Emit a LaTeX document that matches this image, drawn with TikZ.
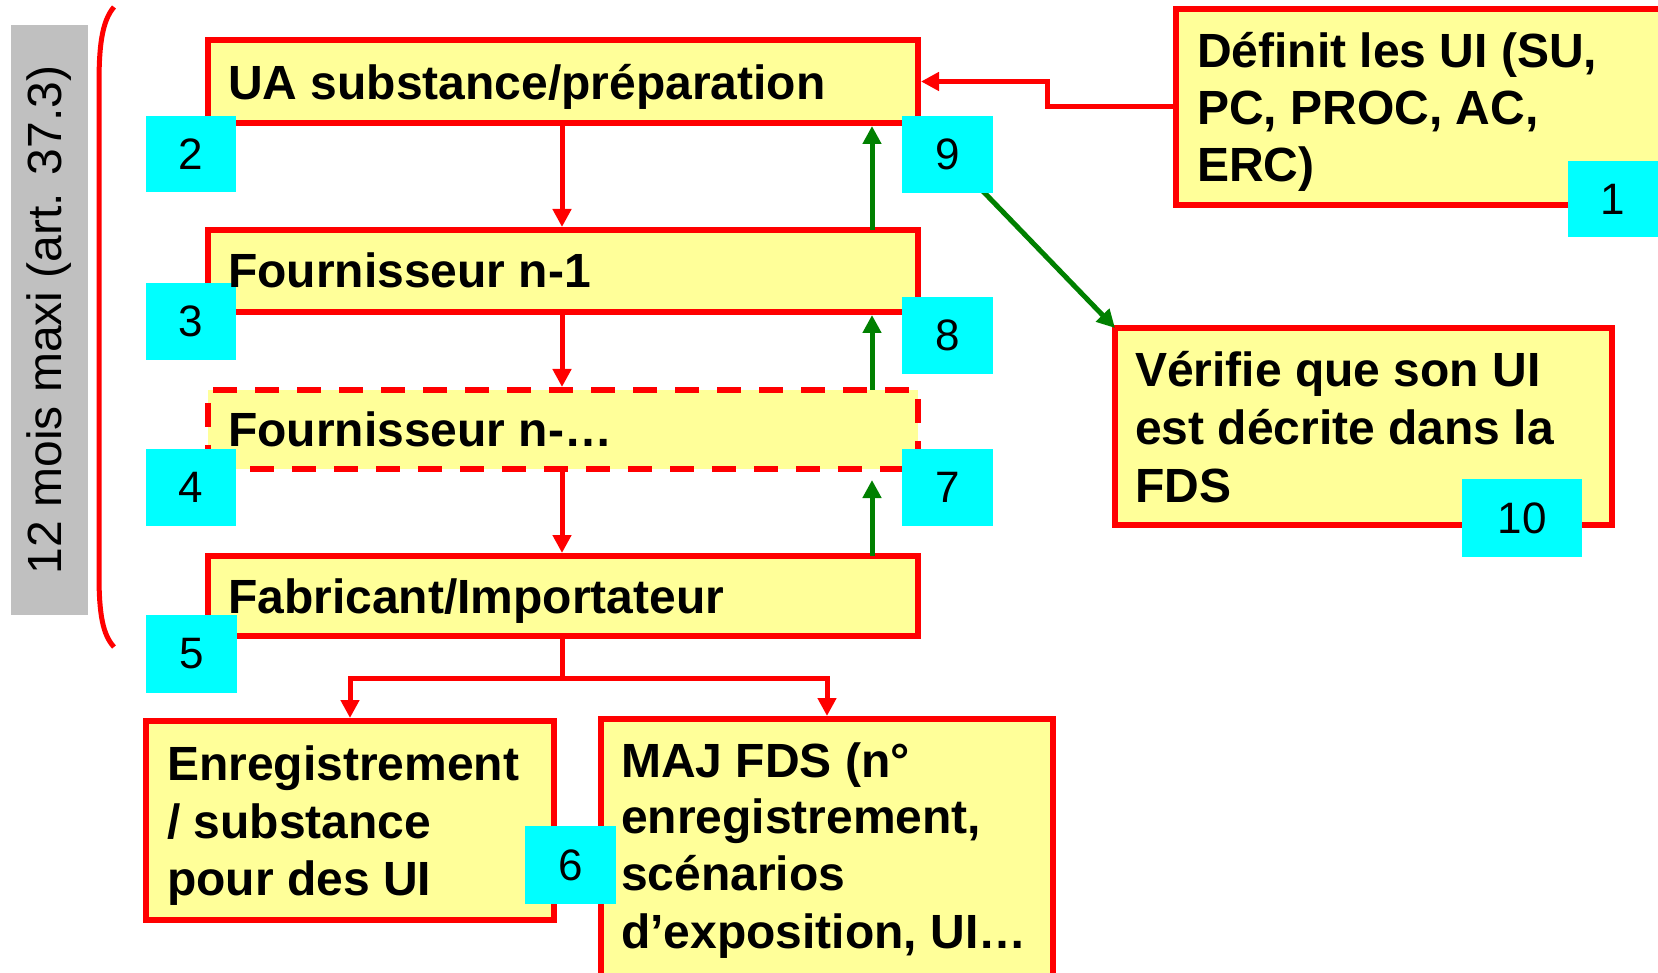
\documentclass[tikz,border=0pt]{standalone}
\usepackage{fontspec}
\setmainfont{Liberation Sans}
\usetikzlibrary{arrows.meta}
\definecolor{boxfill}{HTML}{FFFF99}
\definecolor{cyanbox}{HTML}{00FFFF}
\definecolor{darkgreen}{HTML}{008000}
\definecolor{greybar}{HTML}{C0C0C0}
\pgfdeclarelayer{fg}
\pgfsetlayers{main,fg}
\begin{document}
\begin{tikzpicture}[x=1pt,y=-1pt,
  box/.style={draw=red, fill=boxfill, line width=5.5pt, inner sep=0pt, outer sep=0pt, anchor=north west},
  dbox/.style={box, dash pattern=on 24pt off 18pt},
  numbox/.style={fill=cyanbox, inner sep=0pt, outer sep=0pt, anchor=north west, font=\fontsize{44}{50}\selectfont},
  btxt/.style={anchor=base west, inner sep=0pt, font=\bfseries\fontsize{48}{57}\selectfont},
  rarr/.style={draw=red, line width=5pt, -{Triangle[length=18pt,width=18pt]}, shorten >=3pt},
  rline/.style={draw=red, line width=5pt},
  garr/.style={draw=darkgreen, line width=5pt, -{Triangle[length=18pt,width=18pt]}, shorten >=3pt}
]
\useasboundingbox (0,0) rectangle (1658,973);
% grey label and bracket
\fill[greybar] (11,25) rectangle (88,615);
\node[rotate=90, inner sep=0pt, font=\fontsize{48}{58}\selectfont] (lbl) at (49.5,320) {12 mois maxi (art. 37.3)};
\draw[red, line width=5pt] (114,7) .. controls (101,22) and (99,50) .. (99,85) -- (99,575) .. controls (99,615) and (103,635) .. (114,647);

% boxes
\node[box, minimum width=710pt, minimum height=83pt] (ua) at (208,40) {};
\node[box, minimum width=710pt, minimum height=82pt] (f1) at (208,230) {};
\node[dbox, minimum width=710pt, minimum height=79pt] (fn) at (208,390) {};
\node[box, minimum width=710pt, minimum height=80pt] (fab) at (208,556) {};
\node[box, minimum width=490pt, minimum height=196pt] (def) at (1176,9) {};
\node[box, minimum width=497pt, minimum height=197pt] (ver) at (1115,328) {};
\node[box, minimum width=408pt, minimum height=199pt] (enr) at (146,721) {};
\node[box, minimum width=452pt, minimum height=270pt] (maj) at (601,719) {};

% number squares and texts (front layer)
\begin{pgfonlayer}{fg}
\node[numbox, minimum width=90pt, minimum height=76pt] (n2) at (146,116) {2};
\node[numbox, minimum width=90pt, minimum height=77pt] (n3) at (146,283) {3};
\node[numbox, minimum width=90pt, minimum height=77pt] (n4) at (146,449) {4};
\node[numbox, minimum width=91pt, minimum height=78pt] (n5) at (146,615) {5};
\node[numbox, minimum width=91pt, minimum height=77pt] (n9) at (902,116) {9};
\node[numbox, minimum width=91pt, minimum height=77pt] (n8) at (902,297) {8};
\node[numbox, minimum width=91pt, minimum height=77pt] (n7) at (902,449) {7};
\node[numbox, minimum width=90pt, minimum height=76pt] (n1) at (1568,161) {1};
\node[numbox, minimum width=120pt, minimum height=78pt] (n10) at (1462,479) {10};
\node[numbox, minimum width=91pt, minimum height=78pt] (n6) at (525,826) {6};

\node[btxt] (tua) at (228,100) {UA substance/préparation};
\node[btxt] (tf1) at (228,288) {Fournisseur n-1};
\node[btxt] (tfn) at (228,447) {Fournisseur n-…};
\node[btxt] (tfab) at (228,613) {Fabricant/Importateur};

\node[btxt] (tdef1) at (1197,68) {Définit les UI (SU,};
\node[btxt] (tdef2) at (1197,125) {PC, PROC, AC,};
\node[btxt] (tdef3) at (1197,182) {ERC)};

\node[btxt] (tver1) at (1135,387) {Vérifie que son UI};
\node[btxt] (tver2) at (1135,445) {est décrite dans la};
\node[btxt] (tver3) at (1135,502) {FDS};

\node[btxt] (tenr1) at (167,780) {Enregistrement};
\node[btxt] (tenr2) at (167,838) {/ substance};
\node[btxt] (tenr3) at (167,895) {pour des UI};

\node[btxt] (tmaj1) at (621,777) {MAJ FDS (n°};
\node[btxt] (tmaj2) at (621,833) {enregistrement,};
\node[btxt] (tmaj3) at (621,890) {scénarios};
\node[btxt] (tmaj4) at (621,948) {d’exposition, UI…};
\end{pgfonlayer}

% connectors
\coordinate (xl) at (562,0);
\coordinate (xr) at (872,0);
\draw[rarr] (ua.south -| xl) -- (f1.north -| xl);
\draw[rarr] (f1.south -| xl) -- (fn.north -| xl);
\draw[rarr] (fn.south -| xl) -- (fab.north -| xl);
\draw[garr] (f1.north -| xr) -- (ua.south -| xr);
\draw[garr] (fn.north -| xr) -- (f1.south -| xr);
\draw[garr, shorten >=11pt] (fab.north -| xr) -- (fn.south -| xr);
\coordinate (bend) at (1047,107);
\draw[rarr] (def.west) -- (bend) |- (ua.east);
\draw[garr, shorten >=0pt] (n9.center) -- (ver.north west);
\coordinate (fork) at (562,678);
\draw[rline] (fab.south -| fork) -- (fork);
\draw[rarr] (fork) -| (enr.north);
\draw[rarr] (fork) -| (maj.north);
\end{tikzpicture}
\end{document}
